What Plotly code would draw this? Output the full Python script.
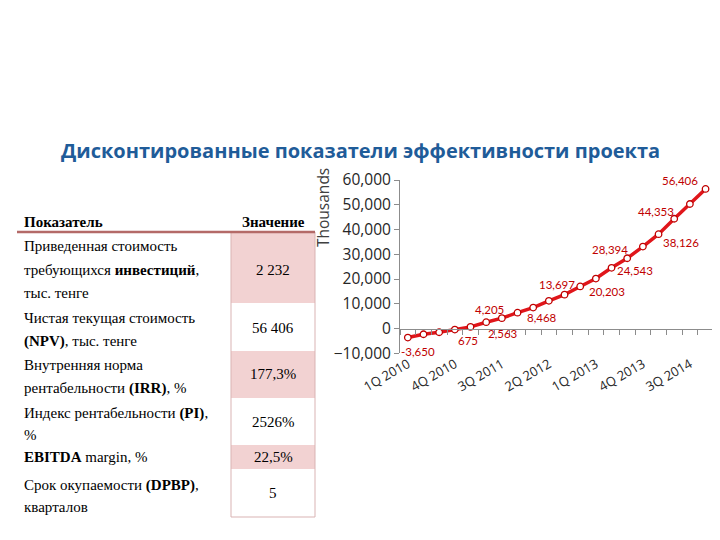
import plotly.graph_objects as go

# ---------------- data ----------------
quarters = ["1Q 2010", "2Q 2010", "3Q 2010", "4Q 2010",
            "1Q 2011", "2Q 2011", "3Q 2011", "4Q 2011",
            "1Q 2012", "2Q 2012", "3Q 2012", "4Q 2012",
            "1Q 2013", "2Q 2013", "3Q 2013", "4Q 2013",
            "1Q 2014", "2Q 2014", "3Q 2014", "4Q 2014"]
npv = [-3650, -2300, -1500, -400, 675, 2563, 4205, 6400, 8468, 11200,
       13697, 17000, 20203, 24543, 28394, 33100, 38126, 44353, 50300, 56406]
labelled = [0, 4, 5, 6, 8, 10, 12, 13, 14, 16, 17, 19]
tick_quarters = ["1Q 2010", "4Q 2010", "3Q 2011", "2Q 2012", "1Q 2013", "4Q 2013", "3Q 2014"]
y_ticks = [-10000, 0, 10000, 20000, 30000, 40000, 50000, 60000]

title = "Дисконтированные показатели эффективности проекта"
header = ["Показатель", "Значение"]
indicator_lines = [
    ["Приведенная стоимость", "требующихся <b>инвестиций</b>,", "тыс. тенге"],
    ["Чистая текущая стоимость", "<b>(NPV)</b>, тыс. тенге"],
    ["Внутренняя норма", "рентабельности <b>(IRR)</b>, %"],
    ["Индекс рентабельности <b>(PI)</b>,", "%"],
    ["<b>EBITDA</b> margin, %"],
    ["Срок окупаемости <b>(DPBP)</b>,", "кварталов"],
]
indicator_values = ["2 232", "56 406", "177,3%", "2526%", "22,5%", "5"]

# ---------------- layout constants (pixels) ----------------
W, H = 720, 540
OFF = 8  # page body margin
def px(x): return (x - OFF) / W
def py(y): return 1 - (y - OFF) / H

# data-label offsets (pixels, x right / y up)
label_shift = {0: (10, -14), 4: (-3, -14), 5: (17, -11), 6: (-12, 9),
               8: (9, -10), 10: (-8, 10), 12: (11, -13), 13: (23, -3),
               14: (-17, 9), 16: (22, -8), 17: (-18, 7), 19: (-26, 8)}

row_bounds = [(232, 303), (303, 351), (351, 398), (398, 445), (445, 469), (469, 517)]
line_y = [[246, 270, 293], [318, 341], [365, 388], [413, 435], [457], [485, 507]]
value_y = [270, 328, 374, 422, 457, 493]
pink_rows = [0, 2, 4]
col2_x0, col2_x1 = 231, 315

serif = "Liberation Serif, Times New Roman, DejaVu Serif, serif"
sans = "Open Sans, Lato, sans-serif"
label_color = "#C00000"

fig = go.Figure()
fig.add_trace(go.Scatter(
    x=quarters, y=npv, mode="lines+markers",
    line=dict(color="#E0161B", width=3.5),
    marker=dict(size=6.5, color="white", line=dict(color="#C00000", width=1.3)),
    cliponaxis=False, showlegend=False,
))

ydom = [py(353.3), py(180)]
ymin, ymax = -10000, 60000
zero_pos = ydom[0] + (0 - ymin) / (ymax - ymin) * (ydom[1] - ydom[0])

shapes = []
annotations = []

for i in labelled:
    dx, dy = label_shift[i]
    annotations.append(dict(x=quarters[i], y=npv[i], xref="x", yref="y", text=f"{npv[i]:,}",
                            showarrow=False, xshift=dx, yshift=dy,
                            xanchor="center", yanchor="middle",
                            font=dict(family="Lato", size=11.5, color=label_color)))

for i in pink_rows:
    y0, y1 = row_bounds[i]
    shapes.append(dict(type="rect", xref="paper", yref="paper",
                       x0=px(col2_x0), x1=px(col2_x1), y0=py(y1), y1=py(y0),
                       fillcolor="#F2D2D2", line=dict(width=0), layer="below"))
border = "#D9B3B3"
shapes.append(dict(type="line", xref="paper", yref="paper", x0=px(col2_x0), x1=px(col2_x0),
                   y0=py(517), y1=py(232), line=dict(color=border, width=1)))
shapes.append(dict(type="line", xref="paper", yref="paper", x0=px(col2_x1), x1=px(col2_x1),
                   y0=py(517), y1=py(232), line=dict(color=border, width=1)))
shapes.append(dict(type="line", xref="paper", yref="paper", x0=px(col2_x0), x1=px(col2_x1),
                   y0=py(517), y1=py(517), line=dict(color=border, width=1)))
shapes.append(dict(type="line", xref="paper", yref="paper", x0=px(17), x1=px(315),
                   y0=py(232), y1=py(232), line=dict(color="#B46A68", width=2.5)))

annotations.append(dict(text=f"<b>{title}</b>", x=px(360), y=py(150), xref="paper", yref="paper",
                        showarrow=False, xanchor="center", yanchor="middle",
                        font=dict(family="Open Sans", size=20, color="#1F5C99")))
annotations.append(dict(text=f"<b>{header[0]}</b>", x=px(22), y=py(222), xref="paper", yref="paper",
                        showarrow=False, xanchor="left", yanchor="middle",
                        font=dict(family=serif, size=15, color="black")))
annotations.append(dict(text=f"<b>{header[1]}</b>", x=px(273), y=py(222), xref="paper", yref="paper",
                        showarrow=False, xanchor="center", yanchor="middle",
                        font=dict(family=serif, size=15, color="black")))
for lines, ys in zip(indicator_lines, line_y):
    for t, yy in zip(lines, ys):
        annotations.append(dict(text=t, x=px(22), y=py(yy), xref="paper", yref="paper",
                                showarrow=False, xanchor="left", yanchor="middle",
                                font=dict(family=serif, size=15, color="black")))
for v, yy in zip(indicator_values, value_y):
    annotations.append(dict(text=v, x=px(273), y=py(yy), xref="paper", yref="paper",
                            showarrow=False, xanchor="center", yanchor="middle",
                            font=dict(family=serif, size=15, color="black")))
annotations.append(dict(text="Thousands", x=px(323), y=py(208), xref="paper", yref="paper",
                        showarrow=False, textangle=-90, xanchor="center", yanchor="middle",
                        font=dict(family=sans, size=15.5, color="#404040")))

fig.update_layout(
    width=W, height=H, autosize=False,
    margin=dict(l=0, r=0, t=0, b=0, pad=0),
    paper_bgcolor="white", plot_bgcolor="rgba(0,0,0,0)",
    shapes=shapes, annotations=annotations,
    xaxis=dict(domain=[px(400), px(713.4)], type="category", range=[-0.5, 19.5],
               tickmode="array", tickvals=tick_quarters, ticktext=tick_quarters,
               tickangle=-30, showline=False, ticks="", showgrid=False, zeroline=False,
               automargin=False,
               tickfont=dict(family=sans, size=13, color="#262626"), anchor="y"),
    xaxis2=dict(domain=[px(400), px(713.4)], overlaying="x", range=[-0.5, 19.5],
                anchor="free", position=zero_pos, showline=True, linecolor="#8C8C8C",
                linewidth=1, ticks="outside", ticklen=5, tickcolor="#8C8C8C",
                tickmode="array", tickvals=[i - 0.5 for i in range(len(quarters) + 1)],
                showticklabels=False, showgrid=False, zeroline=False, automargin=False),
    yaxis=dict(domain=ydom, range=[ymin, ymax], tickmode="array", tickvals=y_ticks,
               tickformat=",", showline=True, linecolor="#8C8C8C", linewidth=1,
               ticks="outside", ticklen=5, tickcolor="#8C8C8C", showgrid=False,
               zeroline=False, automargin=False,
               tickfont=dict(family=sans, size=15.5, color="#262626")),
)
fig.add_trace(go.Scatter(x=[0], y=[0], xaxis="x2", yaxis="y", mode="markers",
                         marker=dict(opacity=0), showlegend=False, hoverinfo="skip"))

fig.write_html("out.html")
